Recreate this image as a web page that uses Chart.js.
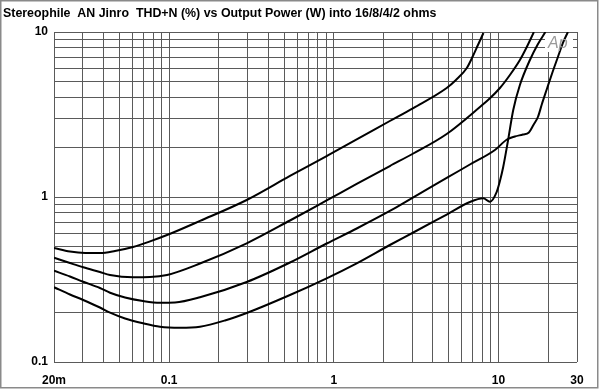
<!DOCTYPE html>
<html>
<head>
<meta charset="utf-8">
<script src="https://cdn.jsdelivr.net/npm/chart.js@4/dist/chart.umd.min.js"></script>
<style>
  html, body { margin: 0; padding: 0; background: #fff; }
  #wrap { width: 600px; height: 389px; position: relative; }
</style>
</head>
<body>
<div id="wrap"><canvas id="c" width="600" height="389"></canvas></div>
<script>
// ---- data ----
const chartTitle = "Stereophile  AN Jinro  THD+N (%) vs Output Power (W) into 16/8/4/2 ohms";

const xGridValues = [0.02,0.03,0.04,0.05,0.06,0.07,0.08,0.09,0.1,0.2,0.3,0.4,0.5,0.6,0.7,0.8,0.9,1,2,3,4,5,6,7,8,9,10,20,30];
const xLabelValues = [0.02, 0.1, 1, 10, 30];
const xLabelTexts  = ["20m", "0.1", "1", "10", "30"];

const yGridValues = [0.1,0.2,0.3,0.4,0.5,0.6,0.7,0.8,0.9,1,2,3,4,5,6,7,8,9,10];
const yLabelValues = [0.1, 1, 10];
const yLabelTexts  = ["0.1", "1", "10"];

// 16 ohms (top curve)
const power16 = [0.02, 0.025, 0.0309, 0.038, 0.0469, 0.0604, 0.0766, 0.0971, 0.154, 0.296, 0.542, 0.905, 1.378, 2.19, 3.04, 4.85, 5.52, 6.41, 7.00, 7.51, 8.11];
const thd16   = [0.491, 0.467, 0.458, 0.458, 0.471, 0.498, 0.538, 0.588, 0.716, 0.959, 1.341, 1.772, 2.231, 2.888, 3.462, 4.577, 5.118, 6.026, 7.153, 8.342, 9.86];

// 8 ohms
const power8 = [0.02, 0.025, 0.0301, 0.038, 0.0438, 0.0604, 0.0766, 0.0971, 0.154, 0.296, 0.542, 0.905, 1.378, 2.19, 3.04, 4.85, 7.72, 8.88, 10.21, 11.74, 13.5, 14.89, 16.42];
const thd8   = [0.4286, 0.398, 0.375, 0.351, 0.3368, 0.3262, 0.3273, 0.3368, 0.3954, 0.524, 0.7204, 0.9524, 1.199, 1.541, 1.835, 2.409, 3.511, 3.965, 4.577, 5.488, 6.767, 8.145, 10.0];

// 4 ohms
const power4 = [0.02, 0.025, 0.0301, 0.038, 0.0438, 0.054, 0.0694, 0.088, 0.1086, 0.154, 0.296, 0.542, 0.905, 1.378, 2.19, 3.04, 4.85, 6.71, 9.52, 11.26, 12.59, 14.08, 15.31, 16.31, 17.37, 18.37, 19.69, 21.12, 22.97, 24.64, 26.42];
const thd4   = [0.3576, 0.3299, 0.3066, 0.2809, 0.263, 0.246, 0.2342, 0.2285, 0.2294, 0.2466, 0.3054, 0.4009, 0.5226, 0.6443, 0.8226, 0.9958, 1.304, 1.574, 1.927, 2.231, 2.326, 2.392, 2.46, 2.732, 3.054, 3.661, 4.513, 5.567, 7.056, 8.579, 10.0];

// 2 ohms (bottom curve)
const power2 = [0.02, 0.025, 0.0301, 0.038, 0.0438, 0.054, 0.0694, 0.088, 0.1164, 0.154, 0.2184, 0.296, 0.542, 0.905, 1.378, 2.19, 3.04, 4.85, 6.71, 8.08, 8.88, 9.75, 10.21, 10.69, 11.42, 12.3, 13.5, 15.53, 17.25, 19.29];
const thd2   = [0.2837, 0.2565, 0.2375, 0.2139, 0.199, 0.1835, 0.1716, 0.1634, 0.1612, 0.1636, 0.1785, 0.1982, 0.2547, 0.3215, 0.3964, 0.5118, 0.6093, 0.7832, 0.9326, 0.982, 0.937, 1.072, 1.25, 1.52, 2.185, 3.368, 4.773, 6.767, 8.342, 10.0];

// ---- chart ----
function pts(xs, ys) { return xs.map((x, i) => ({ x: x, y: ys[i] })); }
function lookup(vals, texts, v) {
  for (let i = 0; i < vals.length; i++) {
    if (Math.abs(vals[i] - v) / vals[i] < 1e-6) return texts[i];
  }
  return "";
}

const FONT = '"Liberation Sans", Arial, Helvetica, sans-serif';

const series = [
  { label: "16 ohms", data: pts(power16, thd16) },
  { label: "8 ohms",  data: pts(power8, thd8) },
  { label: "4 ohms",  data: pts(power4, thd4) },
  { label: "2 ohms",  data: pts(power2, thd2) }
].map(s => Object.assign(s, {
  borderColor: "#000",
  backgroundColor: "#000",
  borderWidth: 2,
  pointRadius: 0,
  showLine: true,
  fill: false,
  cubicInterpolationMode: "monotone"
}));

const decorPlugin = {
  id: "decor",
  beforeDatasetsDraw(chart) {
    const ctx = chart.ctx;
    // small white patch behind the Ap logo
    ctx.save();
    ctx.fillStyle = "#fff";
    ctx.fillRect(545, 33, 28, 19);
    ctx.restore();
  },
  afterDraw(chart) {
    const ctx = chart.ctx;
    ctx.save();
    // title
    ctx.fillStyle = "#000";
    ctx.font = "bold 12.4px " + FONT;
    ctx.textBaseline = "alphabetic";
    ctx.textAlign = "left";
    ctx.fillText(chartTitle, 3, 17);
    // Ap logo
    ctx.fillStyle = "#9a9a9a";
    ctx.font = "italic 16px " + FONT;
    ctx.fillText("Ap", 548, 48);
    // outer frame
    ctx.strokeStyle = "#8a8a8a";
    ctx.lineWidth = 1.5;
    ctx.strokeRect(0.75, 0.75, 597, 387);
    ctx.restore();
  }
};

new Chart(document.getElementById("c"), {
  type: "scatter",
  data: { datasets: series },
  options: {
    responsive: false,
    animation: false,
    devicePixelRatio: 1,
    layout: { padding: { top: 32, right: 23, bottom: 0, left: 0 } },
    plugins: {
      legend: { display: false },
      title: { display: false },
      tooltip: { enabled: false }
    },
    scales: {
      x: {
        type: "logarithmic",
        min: 0.02,
        max: 30,
        afterBuildTicks(scale) { scale.ticks = xGridValues.map(v => ({ value: v })); },
        afterFit(scale) { scale.height = 27; },
        grid: { color: "#5a5a5a", lineWidth: 1, drawTicks: false },
        border: { display: false },
        ticks: {
          autoSkip: false,
          maxRotation: 0,
          padding: 11,
          color: "#000",
          font: { family: FONT, size: 12, weight: "bold" },
          callback: (v) => lookup(xLabelValues, xLabelTexts, v)
        }
      },
      y: {
        type: "logarithmic",
        min: 0.1,
        max: 10,
        afterBuildTicks(scale) { scale.ticks = yGridValues.map(v => ({ value: v })); },
        afterFit(scale) { scale.width = 54; },
        grid: { color: "#5a5a5a", lineWidth: 1, drawTicks: false },
        border: { display: false },
        ticks: {
          autoSkip: false,
          padding: 6,
          color: "#000",
          font: { family: FONT, size: 12, weight: "bold" },
          callback: (v) => lookup(yLabelValues, yLabelTexts, v)
        }
      }
    }
  },
  plugins: [decorPlugin]
});
</script>
</body>
</html>
